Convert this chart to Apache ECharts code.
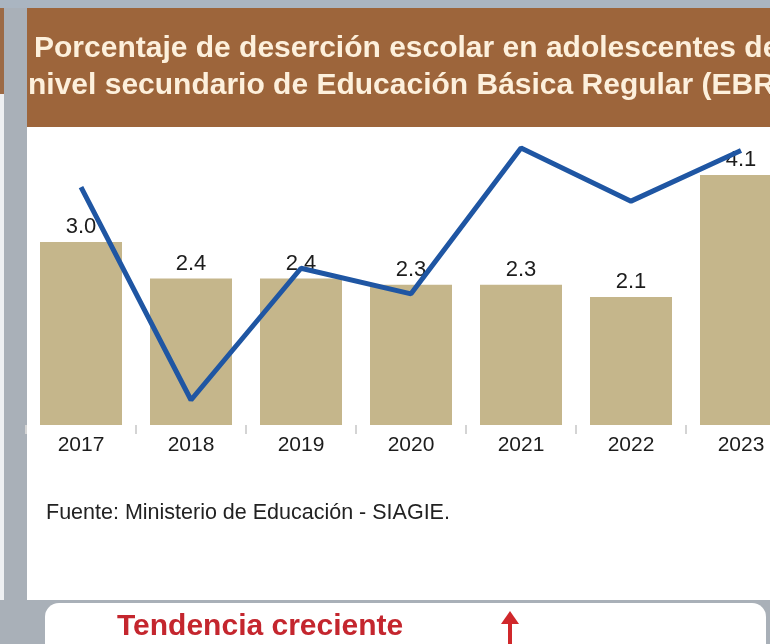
<!DOCTYPE html>
<html>
<head>
<meta charset="utf-8">
<script src="https://cdn.jsdelivr.net/npm/echarts@6/dist/echarts.min.js"></script>
<style>
html,body{margin:0;padding:0;background:#a9b0b8;overflow:hidden;width:770px;height:644px;}
#chart{width:800px;height:644px;}
</style>
</head>
<body>
<div id="chart"></div>
<script>
const categories = ['2017','2018','2019','2020','2021','2022','2023'];
const barValues = [3.0, 2.4, 2.4, 2.3, 2.3, 2.1, 4.1];
const lineValues = [3.9, 0.41, 2.57, 2.15, 4.54, 3.67, 4.5];
const titleLines = ['Porcentaje de deserción escolar en adolescentes de', 'nivel secundario de Educación Básica Regular (EBR)'];
const sourceText = 'Fuente: Ministerio de Educación - SIAGIE.';
const trendText = 'Tendencia creciente';

const FONT = '"Liberation Sans", Arial, sans-serif';
const chart = echarts.init(document.getElementById('chart'));
chart.setOption({
  backgroundColor: '#a9b0b8',
  animation: false,
  graphic: [
    { type: 'rect', z: -10, shape: { x: 0, y: 0, width: 800, height: 8 }, style: { fill: '#aab5c1' } },
    { type: 'rect', z: -10, shape: { x: 0, y: 8, width: 4, height: 86 }, style: { fill: '#9c6a45' } },
    { type: 'rect', z: -10, shape: { x: 0, y: 94, width: 4, height: 506 }, style: { fill: '#eef0f2' } },
    { type: 'rect', z: -10, shape: { x: 27, y: 8, width: 773, height: 119 }, style: { fill: '#9d653b' } },
    { type: 'rect', z: -10, shape: { x: 27, y: 127, width: 773, height: 473 }, style: { fill: '#ffffff' } },
    { type: 'rect', z: -10, shape: { x: 45, y: 603, width: 721, height: 70, r: 14 }, style: { fill: '#ffffff' } },
    { type: 'text', z: 10, x: 34, y: 49, style: { text: titleLines[0], font: 'bold 30px ' + FONT, fill: '#fdf0dc', textVerticalAlign: 'middle' } },
    { type: 'text', z: 10, x: 28, y: 86, style: { text: titleLines[1], font: 'bold 30px ' + FONT, fill: '#fdf0dc', textVerticalAlign: 'middle' } },
    { type: 'text', z: 10, x: 46, y: 513, style: { text: sourceText, font: '21.5px ' + FONT, fill: '#222222', textVerticalAlign: 'middle' } },
    { type: 'text', z: 10, x: 117, y: 627, style: { text: trendText, font: 'bold 30px ' + FONT, fill: '#c4262e', textVerticalAlign: 'middle' } },
    { type: 'polygon', z: 10, shape: { points: [[510, 611], [501, 624], [519, 624]] }, style: { fill: '#d0282b' } },
    { type: 'rect', z: 10, shape: { x: 508, y: 623, width: 4, height: 22 }, style: { fill: '#d0282b' } }
  ],
  grid: { left: 26, top: 120, width: 770, height: 305 },
  xAxis: {
    type: 'category',
    data: categories,
    axisLine: { show: false },
    axisTick: { show: true, length: 9, lineStyle: { color: '#d4d4d4', width: 2 } },
    axisLabel: { fontSize: 21, color: '#1c1c1c', fontFamily: FONT, margin: 10 }
  },
  yAxis: { type: 'value', min: 0, max: 5, show: false, splitLine: { show: false } },
  series: [
    {
      type: 'bar',
      data: barValues,
      barWidth: 82,
      itemStyle: { color: '#c5b68b' },
      label: {
        show: true, position: 'top', distance: 4,
        fontSize: 22, color: '#1c1c1c', fontFamily: FONT,
        formatter: p => p.value.toFixed(1)
      },
      z: 2
    },
    {
      type: 'line',
      data: lineValues,
      symbol: 'none',
      lineStyle: { color: '#1f56a3', width: 5 },
      z: 5
    }
  ]
});
</script>
</body>
</html>
